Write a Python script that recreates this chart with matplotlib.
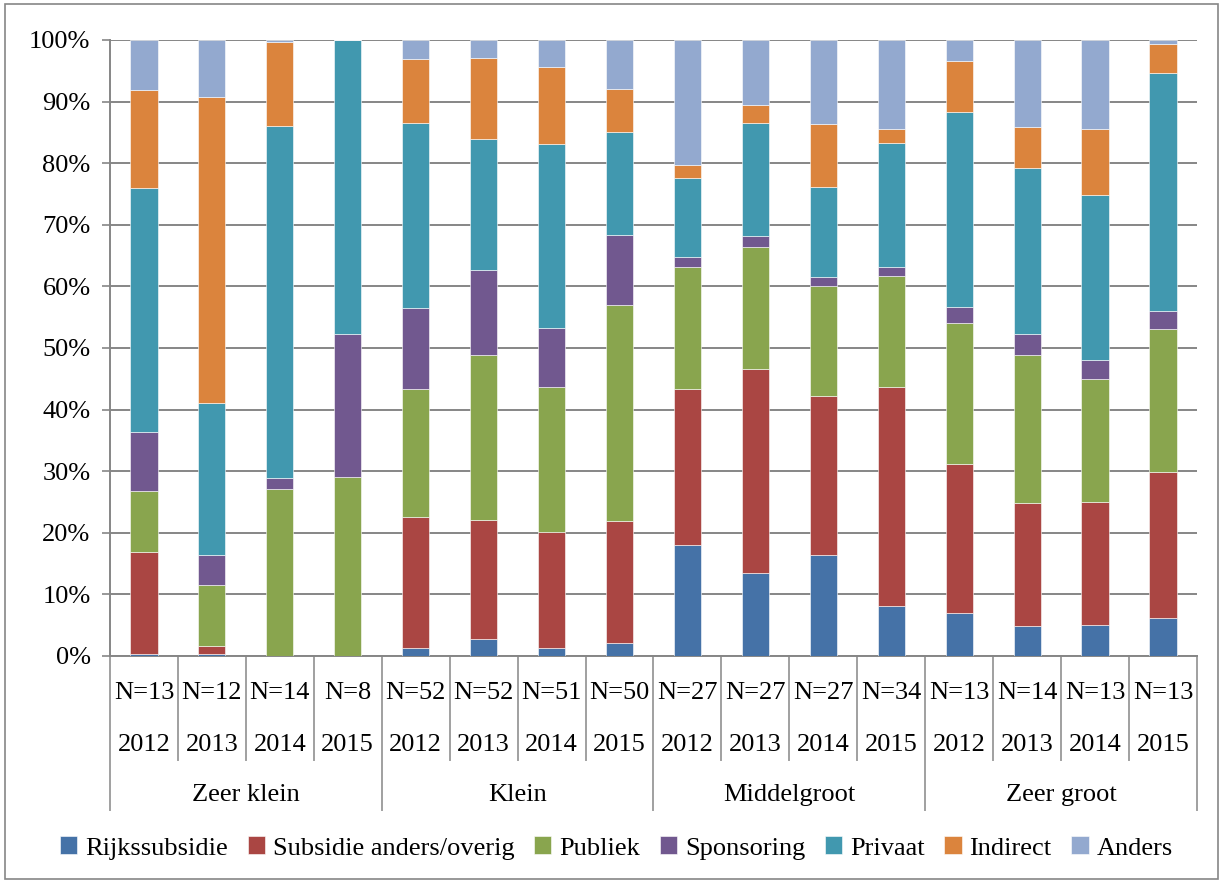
import numpy as np
import matplotlib.pyplot as plt
from matplotlib.patches import Rectangle
import matplotlib.transforms as mtransforms

plt.rcParams['font.family'] = ['Liberation Serif', 'DejaVu Serif']

groepen = ['Zeer klein', 'Klein', 'Middelgroot', 'Zeer groot']
jaren = ['2012', '2013', '2014', '2015']
aantallen = ['N=13', 'N=12', 'N=14', 'N=8',
             'N=52', 'N=52', 'N=51', 'N=50',
             'N=27', 'N=27', 'N=27', 'N=34',
             'N=13', 'N=14', 'N=13', 'N=13']

reeksen = ['Rijkssubsidie', 'Subsidie anders/overig', 'Publiek', 'Sponsoring',
           'Privaat', 'Indirect', 'Anders']

# aandelen in procenten, per balk (16 balken)
rijks    = [0.3, 0.3, 0.0, 0.0,  1.3, 2.8, 1.3, 2.1,  18.0, 13.5, 16.4, 8.1,  7.0, 4.9, 5.0, 6.1]
subsidie = [16.6, 1.4, 0.0, 0.0,  21.2, 19.3, 18.8, 19.8,  25.3, 33.1, 25.8, 35.5,  24.2, 19.9, 20.0, 23.7]
publiek  = [9.9, 9.9, 27.1, 29.1,  20.8, 26.8, 23.6, 35.1,  19.9, 19.8, 17.8, 18.1,  22.8, 24.1, 20.0, 23.3]
sponsor  = [9.6, 4.8, 1.8, 23.2,  13.2, 13.8, 9.5, 11.3,  1.5, 1.8, 1.6, 1.4,  2.7, 3.4, 3.0, 2.9]
privaat  = [39.6, 24.7, 57.2, 47.7,  30.0, 21.3, 29.9, 16.7,  12.9, 18.3, 14.6, 20.2,  31.6, 27.0, 26.9, 38.6]
indirect = [15.9, 49.6, 13.5, 0.0,  10.4, 13.0, 12.5, 7.1,  2.1, 2.9, 10.2, 2.3,  8.3, 6.5, 10.7, 4.7]
anders   = [8.1, 9.3, 0.4, 0.0,  3.1, 3.0, 4.4, 7.9,  20.3, 10.6, 13.6, 14.4,  3.4, 14.2, 14.4, 0.7]

kleuren = ['#4572A7', '#AA4643', '#89A54E', '#71588F', '#4198AF', '#DB843D', '#93A9CF']
fs = 19

fig = plt.figure(figsize=(12.23, 8.81), dpi=100)
ax = fig.add_axes([0.0899, 0.2554, 0.9787 - 0.0899, 0.9546 - 0.2554])

x = np.arange(16)
bodem = np.zeros(16)
for naam, waarden, kl in zip(reeksen, [rijks, subsidie, publiek, sponsor, privaat, indirect, anders], kleuren):
    w = np.array(waarden)
    ax.bar(x, w, 0.4, bottom=bodem, color=kl, label=naam, edgecolor='white', linewidth=0.4, zorder=3)
    bodem += w

ax.set_xlim(-0.5, 15.5)
ax.set_ylim(0, 100)
ax.set_yticks(np.arange(0, 101, 10))
ax.set_yticklabels([f'{v}%' for v in range(0, 101, 10)], fontsize=fs)
ax.yaxis.grid(True, color='#868686', linewidth=1.4, zorder=0)
ax.tick_params(axis='y', length=6, color='#868686', width=1.2, pad=8)
ax.set_xticks([])
for s in ['top', 'right']:
    ax.spines[s].set_visible(False)
ax.spines['left'].set_color('#868686')
ax.spines['left'].set_linewidth(1.4)
ax.spines['bottom'].set_color('#868686')
ax.spines['bottom'].set_linewidth(1.4)

# categorie-as met meerdere niveaus
tr = mtransforms.blended_transform_factory(ax.transData, ax.transAxes)
for i in range(16):
    ax.text(i, -0.060, aantallen[i], transform=tr, ha='center', va='center', fontsize=fs)
    ax.text(i, -0.1445, jaren[i % 4], transform=tr, ha='center', va='center', fontsize=fs)
for i in range(17):
    grens = i - 0.5
    onder = -0.250 if i % 4 == 0 else -0.169
    ax.plot([grens, grens], [0, onder], transform=tr, color='#A0A0A0', linewidth=1.4, clip_on=False)
for g, naam in enumerate(groepen):
    ax.text(g * 4 + 1.5, -0.2256, naam, transform=tr, ha='center', va='center', fontsize=fs)

ax.legend(loc='center', bbox_to_anchor=(0.504, 0.0375), bbox_transform=fig.transFigure,
          ncol=7, frameon=False, fontsize=fs, handlelength=0.65, handleheight=0.65,
          handletextpad=0.3, columnspacing=0.75)

fig.patches.append(Rectangle((0.004, 0.002), 0.992, 0.994, transform=fig.transFigure,
                             fill=False, edgecolor='#868686', linewidth=1.2))

fig.savefig('out.png', dpi=100)
